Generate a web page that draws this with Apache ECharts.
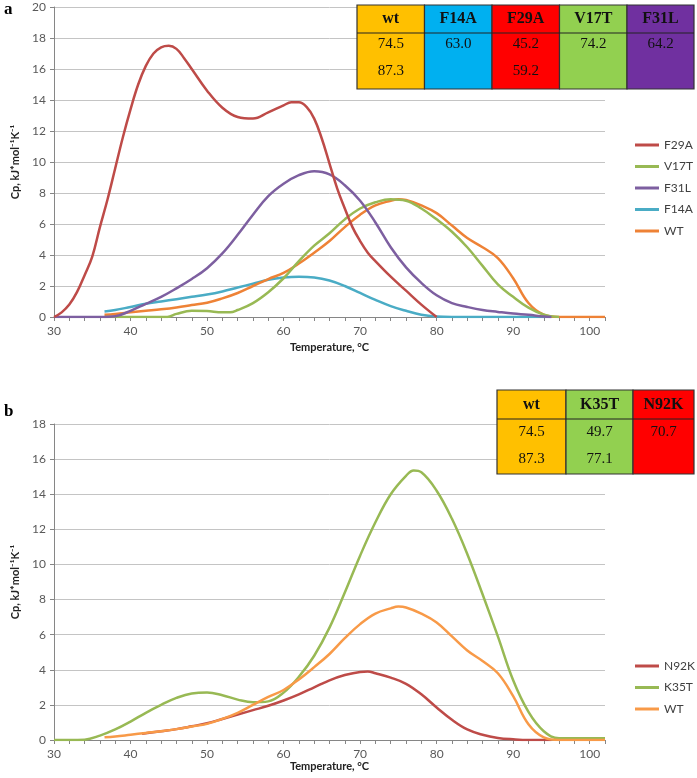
<!DOCTYPE html>
<html><head><meta charset="utf-8">
<script src="https://cdn.jsdelivr.net/npm/echarts@6/dist/echarts.min.js"></script>
<style>html,body{margin:0;padding:0;background:#fff}#c{width:697px;height:778px}</style>
</head><body><div id="c"></div>
<script>
// ---------- Panel a data ----------
const T_F29A  = [30,31,32,33,34,35,36,37,38,39,40,41,42,43,44,45,46,47,48,50,52,54,56,58,60,61,62,63,64,65,66,67,68,69,70,71,72,74,76,78,80];
const CP_F29A = [0,0.3,0.8,1.6,2.7,3.9,5.8,7.6,9.6,11.6,13.4,15.0,16.2,17.0,17.4,17.5,17.3,16.7,16.0,14.6,13.5,12.9,12.8,13.2,13.65,13.85,13.85,13.55,12.8,11.5,9.9,8.3,7.0,5.8,4.9,4.15,3.6,2.6,1.7,0.8,0];

const T_V17T  = [36.6,44.8,46,48,50,52,53,54,56,58,60,62,64,66,68,70,72,74,76,78,80,82,84,86,88,90,92,94,96];
const CP_V17T = [0,0,0.2,0.4,0.38,0.3,0.3,0.45,0.9,1.6,2.5,3.6,4.6,5.4,6.3,7.0,7.4,7.6,7.5,7.0,6.3,5.5,4.5,3.3,2.1,1.3,0.6,0.15,0];

const T_F31L  = [30,32,34,36,38,40,42,44,46,48,50,52,54,56,58,60,62,64,66,68,70,72,74,76,78,80,82,84,86,88,90,92,94,95];
const CP_F31L = [0,0,0,0,0.05,0.4,0.85,1.3,1.85,2.45,3.15,4.1,5.3,6.6,7.8,8.6,9.15,9.4,9.2,8.5,7.5,6.1,4.5,3.2,2.2,1.4,0.9,0.65,0.45,0.33,0.22,0.14,0.03,0];

const T_F14A  = [36.6,38,40,42,44,46,48,50,52,54,56,58,60,62,64,66,68,70,72,74,76,78,80,82,95];
const CP_F14A = [0.35,0.45,0.65,0.85,1.0,1.15,1.3,1.45,1.65,1.9,2.15,2.4,2.55,2.6,2.55,2.35,2.0,1.55,1.1,0.7,0.4,0.15,0.03,0,0];

// WT (shown in both panels)
const T_WT  = [36.6,38,40,42,44,46,48,50,52,54,56,58,60,62,64,66,68,70,72,74,75,76,78,80,82,84,86,88,90,92,94,96,102];
const CP_WT = [0.15,0.2,0.3,0.4,0.5,0.62,0.77,0.92,1.2,1.55,2.0,2.45,2.85,3.45,4.15,4.9,5.8,6.6,7.2,7.5,7.6,7.55,7.2,6.7,5.9,5.1,4.5,3.8,2.5,0.9,0.15,0,0];

// ---------- Panel b data ----------
const T_N92K  = [41.5,44,46,48,50,52,54,56,58,60,62,64,66,68,70,71,72,74,76,78,80,82,84,86,88,90,92,95];
const CP_N92K = [0.35,0.5,0.62,0.78,0.95,1.2,1.45,1.7,1.95,2.25,2.6,3.0,3.4,3.7,3.88,3.9,3.8,3.55,3.2,2.6,1.85,1.15,0.6,0.3,0.12,0.04,0,0];

const T_K35T  = [30,32,34,36,38,40,42,44,46,48,50,52,54,56,58,60,62,64,66,68,70,72,74,76,77,78,80,82,84,86,88,90,92,94,96,102];
const CP_K35T = [0,0,0.02,0.25,0.6,1.05,1.55,2.0,2.4,2.65,2.7,2.55,2.3,2.15,2.2,2.7,3.6,4.8,6.4,8.4,10.5,12.4,14.0,15.05,15.35,15.25,14.2,12.6,10.6,8.3,5.9,3.4,1.6,0.5,0.1,0.1];

// ---------- Tables ----------
const TABLE_A_HEAD = ['wt','F14A','F29A','V17T','F31L'];
const TABLE_A_ROW1 = ['74.5','63.0','45.2','74.2','64.2'];
const TABLE_A_ROW2 = ['87.3','','59.2','',''];
const TABLE_B_HEAD = ['wt','K35T','N92K'];
const TABLE_B_ROW1 = ['74.5','49.7','70.7'];
const TABLE_B_ROW2 = ['87.3','77.1',''];

// axis ticks
const X_MIN = 30, X_MAX = 102, X_STEP = 2;
const YA_MAX = 20, YB_MAX = 18, Y_STEP = 2;

// ---------- styles ----------
const C = {F29A:'#BE4B48', V17T:'#98B954', F31L:'#7D5FA0', F14A:'#4AACC5', WTa:'#EE8236', N92K:'#BE4B48', K35T:'#98B954', WTb:'#F89A48'};
const TA_COLORS = ['#FFC000','#00B0F0','#FF0000','#92D050','#7030A0'];
const TB_COLORS = ['#FFC000','#92D050','#FF0000'];

const zip = (xs, ys) => xs.map((x,i)=>[x, ys[i]]);
const AX = '#868686', LBL = '#595959', FONT = 'Lato';

function xAxis(gi, gap){
  return {type:'value', gridIndex:gi, min:X_MIN, max:X_MAX, interval:X_STEP,
    axisLine:{lineStyle:{color:AX,width:1}}, axisTick:{show:true,length:4,lineStyle:{color:AX}},
    splitLine:{show:false},
    axisLabel:{color:LBL, fontFamily:FONT, fontSize:12, margin:8, formatter:v => (v%10===0 ? String(v) : '')},
    name:'Temperature, °C', nameLocation:'middle', nameGap:gap,
    nameTextStyle:{color:'#222', fontFamily:FONT, fontWeight:'bold', fontSize:11}};
}
function yAxis(gi, max){
  return {type:'value', gridIndex:gi, min:0, max:max, interval:Y_STEP,
    axisLine:{show:true, lineStyle:{color:AX,width:1}}, axisTick:{show:true,length:4,lineStyle:{color:AX}},
    splitLine:{lineStyle:{color:'#C4C4C4',width:1}},
    axisLabel:{color:LBL, fontFamily:FONT, fontSize:12, margin:8},
    name:'Cp, kJ*mol\u207B\u00B9K\u207B\u00B9', nameLocation:'middle', nameGap:28, nameRotate:90,
    nameTextStyle:{color:'#222', fontFamily:FONT, fontWeight:'bold', fontSize:11}};
}
function line(name, xi, yi, xs, ys, color){
  return {type:'line', name:name, xAxisIndex:xi, yAxisIndex:yi, data:zip(xs,ys),
    smooth:0.4, showSymbol:false, symbol:'none', silent:true,
    lineStyle:{color:color, width:2.5}, itemStyle:{color:color}};
}

function table(colX, yTop, yMid, yBot, heads, r1, r2, colors, yR1, yR2){
  const els = [];
  for (let i=0;i<heads.length;i++){
    const xl = colX[i], xr = colX[i+1];
    els.push({type:'rect', shape:{x:xl,y:yTop,width:xr-xl,height:yBot-yTop}, style:{fill:colors[i], stroke:'#333', lineWidth:1.2}, z:100});
    els.push({type:'line', shape:{x1:xl,y1:yMid,x2:xr,y2:yMid}, style:{stroke:'#222', lineWidth:1.2}, z:101});
    const cx = (xl+xr)/2;
    els.push({type:'text', x:cx, y:(yTop+yMid)/2, style:{text:heads[i], fill:'#111', font:'bold 16px "Liberation Serif"', align:'center', verticalAlign:'middle'}, z:102});
    els.push({type:'text', x:cx, y:yR1, style:{text:r1[i], fill:'#111', font:'15px "Liberation Serif"', align:'center', verticalAlign:'middle'}, z:102});
    els.push({type:'text', x:cx, y:yR2, style:{text:r2[i], fill:'#111', font:'15px "Liberation Serif"', align:'center', verticalAlign:'middle'}, z:102});
  }
  return els;
}

const chart = echarts.init(document.getElementById('c'), null, {renderer:'canvas'});
const legendText = {color:'#404040', fontFamily:FONT, fontSize:12, lineHeight:14};
chart.setOption({
  animation:false,
  backgroundColor:'#fff',
  grid:[
    {left:54, right:92, top:7, height:310},
    {left:54, right:92, top:424, height:316}
  ],
  xAxis:[xAxis(0,25), xAxis(1,21)],
  yAxis:[yAxis(0,YA_MAX), yAxis(1,YB_MAX)],
  legend:[
    {orient:'vertical', left:630, top:133, itemGap:7.5, itemWidth:24, itemHeight:3, icon:'rect', textStyle:legendText,
     selectedMode:false,
     data:[{name:'F29A'},{name:'V17T'},{name:'F31L'},{name:'F14A'},{name:'WT', itemStyle:{color:C.WTa}}]},
    {orient:'vertical', left:630, top:654, itemGap:7.5, itemWidth:24, itemHeight:3, icon:'rect', textStyle:legendText,
     selectedMode:false,
     data:[{name:'N92K'},{name:'K35T'},{name:'WT', itemStyle:{color:C.WTb}}]}
  ],
  series:[
    line('F14A',0,0,T_F14A,CP_F14A,C.F14A),
    line('WT',0,0,T_WT,CP_WT,C.WTa),
    line('V17T',0,0,T_V17T,CP_V17T,C.V17T),
    line('F31L',0,0,T_F31L,CP_F31L,C.F31L),
    line('F29A',0,0,T_F29A,CP_F29A,C.F29A),
    line('N92K',1,1,T_N92K,CP_N92K,C.N92K),
    line('K35T',1,1,T_K35T,CP_K35T,C.K35T),
    line('WT',1,1,T_WT,CP_WT,C.WTb)
  ],
  graphic:[
    {type:'text', left:4, top:1, style:{text:'a', fill:'#000', font:'bold 17px "Liberation Serif"'}},
    {type:'text', left:4, top:403, style:{text:'b', fill:'#000', font:'bold 17px "Liberation Serif"'}},
    ...table([357,424.5,492,559.5,627,694],5,33,89,TABLE_A_HEAD,TABLE_A_ROW1,TABLE_A_ROW2,TA_COLORS,44,71),
    ...table([497,566,633,694],390,419,474,TABLE_B_HEAD,TABLE_B_ROW1,TABLE_B_ROW2,TB_COLORS,432,459)
  ]
});
</script></body></html>
